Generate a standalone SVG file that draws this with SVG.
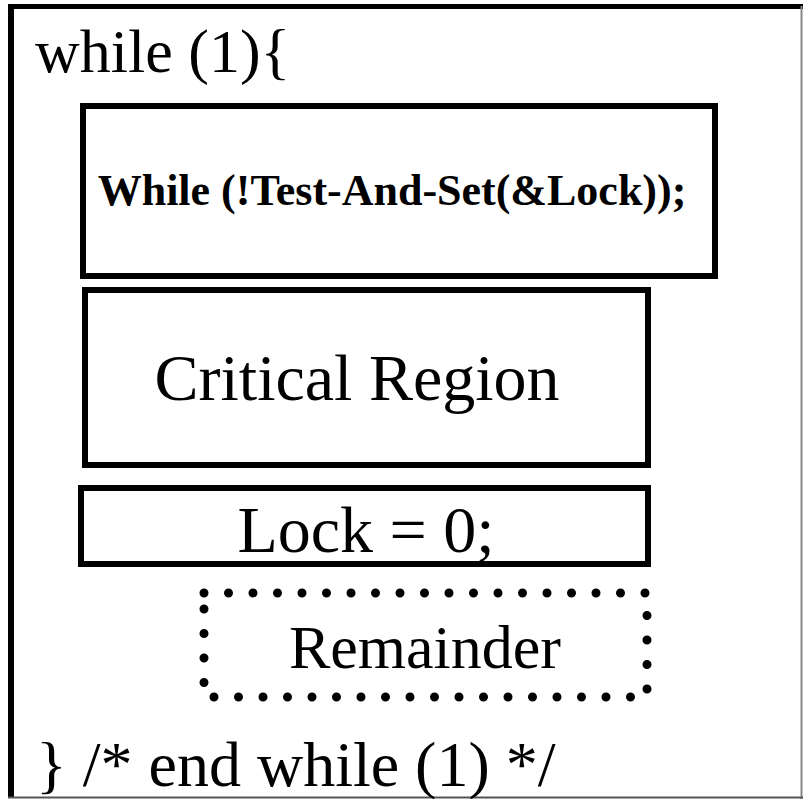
<svg xmlns="http://www.w3.org/2000/svg" width="803" height="799" viewBox="0 0 803 799">
<style>
.box{fill:none;stroke:#000;stroke-width:6}
.t{font-family:"Liberation Serif","Times New Roman",serif;font-size:62px;fill:#000}
.b{font-family:"Liberation Serif","Times New Roman",serif;font-size:44px;font-weight:bold;fill:#000}
.dots{fill:none;stroke:#000;stroke-width:9;stroke-linecap:round;stroke-dasharray:0 24.5}
</style>
<rect width="803" height="799" fill="#fff"/>
<g id="frame">
<line x1="8" y1="6.5" x2="803" y2="6.5" stroke="#000" stroke-width="5"/>
<line x1="11" y1="4" x2="11" y2="797" stroke="#000" stroke-width="6"/>
<line x1="801.5" y1="6" x2="801.5" y2="799" stroke="#888" stroke-width="2"/>
<line x1="8" y1="797.5" x2="803" y2="797.5" stroke="#555" stroke-width="2"/>
</g>
<g id="loop-start"><text class="t" x="35" y="72">while (1){</text></g>
<g id="entry">
<rect class="box" x="83" y="106" width="632" height="170"/>
<text class="b" x="392" y="205" text-anchor="middle">While (!Test-And-Set(&amp;Lock));</text>
</g>
<g id="critical">
<rect class="box" x="85" y="290" width="563" height="175"/>
<text class="t" x="357" y="400" text-anchor="middle" style="font-size:66px">Critical Region</text>
</g>
<g id="exit">
<rect class="box" x="81" y="488" width="567" height="76"/>
<text class="t" x="366" y="552" text-anchor="middle" style="font-size:66px">Lock = 0;</text>
</g>
<g id="remainder">
<rect class="dots" x="204" y="593" width="443" height="104"/>
<text class="t" x="425" y="668" text-anchor="middle">Remainder</text>
</g>
<g id="loop-end"><text class="t" x="36" y="786" style="font-size:64px">} /* end while (1) */</text></g>
<g id="connectors"></g>
</svg>
